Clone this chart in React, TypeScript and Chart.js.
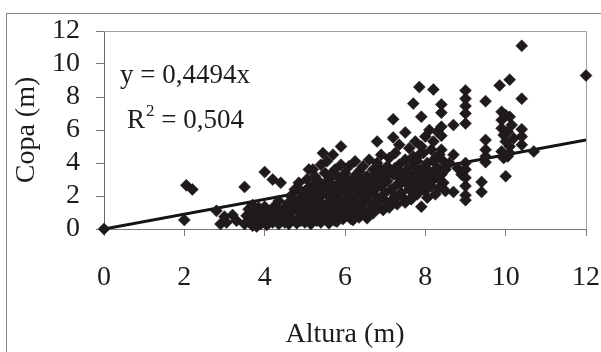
import React, { useEffect, useRef } from 'react';
import { Chart, registerables } from 'chart.js';

Chart.register(...registerables);

// Tick values
const xTickValues = [0, 2, 4, 6, 8, 10, 12];
const yTickValues = [0, 2, 4, 6, 8, 10, 12];

// Trend line (regression through origin)
const slope = 0.4494;
const equationLabel = 'y = 0,4494x';
const r2Label = '0,504';

// Observations: [altura (m), copa (m)]
const arvoresBaixas: [number, number][] = [
  [0, 0], [2.0, 0.55], [2.05, 2.65], [2.2, 2.4], [2.8, 1.1], [2.9, 0.3], [3.0, 0.75], [3.05, 0.4],
  [3.2, 0.85], [3.3, 0.5], [3.5, 2.55], [4.0, 3.45], [4.2, 3.0], [4.4, 2.8],
  [3.5, 0.3], [3.55, 0.8], [3.6, 1.2], [3.65, 0.5], [3.7, 0.2], [3.75, 0.9], [3.8, 0.6], [3.85, 1.3],
  [3.9, 0.3], [3.95, 1.0], [4.0, 0.6], [4.05, 0.25], [4.1, 1.1], [4.15, 0.7], [4.2, 0.4], [4.25, 1.4],
  [4.3, 0.8], [4.35, 0.3], [4.4, 1.0], [4.45, 0.55], [4.5, 1.3], [3.6, 0.45], [3.8, 0.15], [4.0, 1.35],
  [4.2, 1.0], [4.35, 1.7], [3.7, 1.45], [3.9, 0.75], [4.1, 0.35], [4.3, 1.15], [4.45, 0.85],
  [4.5, 0.4], [4.55, 0.9], [4.6, 1.6], [4.6, 0.3], [4.65, 2.0], [4.7, 1.2], [4.7, 0.6], [4.75, 2.4],
  [4.8, 0.35], [4.8, 1.5], [4.85, 1.0], [4.85, 2.8], [4.9, 0.5], [4.9, 1.9], [4.95, 1.3], [4.95, 0.8],
  [5.0, 2.3], [5.0, 0.4], [5.0, 1.6], [4.6, 1.0], [4.75, 1.75], [4.9, 2.3], [4.65, 0.65], [4.85, 0.6],
];

const arvoresMedias: [number, number][] = [
  [5.05, 3.0], [5.05, 1.1], [5.1, 0.6], [5.1, 2.0], [5.1, 3.6], [5.15, 1.5], [5.15, 0.3], [5.2, 2.6],
  [5.2, 0.9], [5.2, 3.6], [5.25, 1.8], [5.25, 3.2], [5.3, 0.5], [5.3, 1.2], [5.3, 2.3], [5.35, 2.9],
  [5.35, 0.8], [5.4, 1.6], [5.4, 3.9], [5.4, 0.4], [5.45, 2.1], [5.45, 4.6], [5.5, 1.0], [5.5, 2.7],
  [5.5, 3.4], [5.5, 0.6], [5.1, 2.5], [5.2, 1.3], [5.3, 1.7], [5.4, 2.5], [5.25, 0.55], [5.45, 1.3],
  [5.15, 2.2], [5.35, 2.0], [5.25, 2.75], [5.05, 1.8],
  [5.55, 1.4], [5.55, 4.1], [5.6, 0.35], [5.6, 2.3], [5.6, 3.0], [5.65, 1.8], [5.65, 0.8], [5.7, 4.5],
  [5.7, 2.6], [5.7, 1.2], [5.75, 3.6], [5.75, 0.5], [5.8, 2.0], [5.8, 3.2], [5.8, 1.5], [5.85, 0.9],
  [5.85, 2.8], [5.9, 5.0], [5.9, 1.1], [5.9, 3.9], [5.95, 2.4], [5.95, 0.6], [6.0, 1.7], [6.0, 3.4],
  [6.0, 2.9], [5.6, 1.6], [5.75, 2.2], [5.9, 1.8], [5.65, 3.3], [5.8, 0.45], [5.95, 1.35], [5.55, 2.6],
  [5.7, 1.9], [5.85, 2.4], [5.6, 2.0], [5.95, 3.0],
  [6.05, 0.8], [6.05, 2.2], [6.1, 1.3], [6.1, 3.8], [6.15, 2.6], [6.15, 0.6], [6.2, 1.9], [6.2, 3.1],
  [6.25, 1.0], [6.25, 4.1], [6.3, 2.4], [6.3, 1.5], [6.35, 3.5], [6.35, 0.7], [6.4, 2.0], [6.4, 2.9],
  [6.4, 0.85], [6.45, 1.2], [6.45, 3.8], [6.5, 2.5], [6.5, 1.7], [6.1, 1.75], [6.2, 2.5], [6.3, 3.3],
  [6.2, 0.55], [6.35, 1.1], [6.5, 3.1], [6.05, 3.0], [6.4, 1.5], [6.15, 2.1], [6.3, 2.8], [6.45, 2.2],
  [6.55, 0.65], [6.55, 3.2], [6.6, 2.1], [6.6, 1.1], [6.6, 4.2], [6.65, 2.8], [6.7, 1.5], [6.7, 3.6],
  [6.75, 2.4], [6.8, 5.3], [6.8, 1.9], [6.8, 4.0], [6.85, 3.0], [6.85, 1.3], [6.9, 2.6], [6.9, 4.5],
  [6.95, 1.15], [6.95, 3.4], [7.0, 2.2], [7.0, 1.7], [6.6, 1.6], [6.75, 3.3], [6.9, 1.9], [6.65, 2.4],
  [6.8, 2.7], [6.95, 2.9], [6.7, 0.95], [6.85, 3.7], [6.6, 2.7],
];

const arvoresAltas: [number, number][] = [
  [7.05, 3.8], [7.05, 2.9], [7.1, 1.3], [7.1, 4.3], [7.15, 2.4], [7.2, 6.65], [7.2, 5.55], [7.2, 3.3],
  [7.2, 1.8], [7.25, 4.6], [7.3, 2.7], [7.3, 1.5], [7.35, 3.9], [7.35, 5.1], [7.4, 2.2], [7.4, 3.4],
  [7.45, 1.9], [7.5, 5.85], [7.5, 4.2], [7.5, 2.9], [7.5, 1.6], [7.1, 3.5], [7.25, 2.0], [7.4, 2.8],
  [7.3, 3.2], [7.15, 1.7], [7.25, 3.7], [7.45, 3.1],
  [7.55, 3.6], [7.6, 2.4], [7.6, 4.9], [7.65, 1.8], [7.65, 3.1], [7.7, 7.6], [7.7, 4.4], [7.7, 2.7],
  [7.75, 3.8], [7.75, 5.3], [7.8, 2.1], [7.8, 4.1], [7.85, 8.6], [7.85, 3.4], [7.9, 6.8], [7.9, 1.35],
  [7.9, 2.8], [7.9, 5.0], [7.95, 4.6], [8.0, 3.2], [8.0, 2.3], [8.0, 5.6], [7.6, 3.3], [7.8, 3.0],
  [7.7, 2.0], [7.95, 3.7], [7.55, 2.7], [7.65, 4.1], [7.85, 4.5], [7.75, 2.4], [7.95, 2.6],
  [8.05, 4.0], [8.05, 1.9], [8.1, 3.5], [8.1, 6.0], [8.15, 2.6], [8.15, 4.8], [8.2, 8.45], [8.2, 3.0],
  [8.2, 5.3], [8.25, 2.1], [8.25, 4.3], [8.3, 3.7], [8.3, 5.9], [8.35, 2.5], [8.4, 7.55], [8.4, 7.05],
  [8.4, 6.2], [8.4, 5.65], [8.4, 4.8], [8.4, 3.3], [8.45, 4.1], [8.5, 2.3], [8.5, 3.6], [8.1, 2.8],
  [8.3, 3.1], [8.35, 4.5], [8.2, 4.1], [8.45, 2.8], [8.25, 3.4],
  [8.6, 4.0], [8.7, 6.3], [8.7, 4.5], [8.7, 2.25], [8.8, 3.7], [8.9, 3.3], [9.0, 8.4], [9.0, 7.9],
  [9.0, 7.45], [9.0, 7.0], [9.0, 6.4], [9.0, 4.0], [9.0, 3.6], [9.0, 3.1], [9.0, 2.6], [9.0, 2.05],
  [9.0, 1.75], [9.4, 2.85], [9.4, 2.25], [9.5, 7.75], [9.5, 5.4], [9.5, 4.8], [9.5, 4.05], [9.5, 4.4],
  [9.85, 8.7], [9.9, 7.1], [9.9, 6.6], [9.9, 6.1], [9.95, 5.7], [10.0, 5.3], [9.9, 4.7], [10.0, 3.2],
  [10.05, 4.4], [10.1, 9.05], [10.1, 6.8], [10.1, 5.0], [10.15, 6.3], [10.2, 5.5], [10.0, 6.9],
  [10.05, 5.9], [10.1, 4.6], [9.95, 4.3],
  [10.4, 11.1], [10.4, 7.9], [10.4, 6.05], [10.4, 5.6], [10.4, 5.1], [10.7, 4.7], [12.0, 9.3],
];

const FONT = "'Liberation Serif', 'Times New Roman', serif";
const INK = '#1f1b1c';

export default function App() {
  const canvasRef = useRef<HTMLCanvasElement>(null);

  useEffect(() => {
    document.body.style.margin = '0';
    const canvas = canvasRef.current;
    if (!canvas) return;

    const points = [...arvoresBaixas, ...arvoresMedias, ...arvoresAltas].map(([x, y]) => ({ x, y }));
    const xMax = xTickValues[xTickValues.length - 1];
    const yMax = yTickValues[yTickValues.length - 1];

    const decorPlugin = {
      id: 'decor',
      beforeDatasetsDraw(chart: any) {
        const { ctx, chartArea } = chart;
        ctx.save();
        ctx.strokeStyle = '#a0a0a0';
        ctx.lineWidth = 1;
        ctx.beginPath();
        ctx.moveTo(chartArea.left, chartArea.top + 0.5);
        ctx.lineTo(chartArea.right + 0.5, chartArea.top + 0.5);
        ctx.lineTo(chartArea.right + 0.5, chartArea.bottom);
        ctx.stroke();
        ctx.restore();
      },
      afterDraw(chart: any) {
        const { ctx, chartArea } = chart;
        ctx.save();
        ctx.fillStyle = INK;
        ctx.textBaseline = 'alphabetic';
        ctx.textAlign = 'left';
        ctx.font = `27px ${FONT}`;
        const x0 = chartArea.left + 16;
        ctx.fillText(equationLabel, x0, chartArea.top + 52);
        const rx = chartArea.left + 23;
        const ry = chartArea.top + 97;
        ctx.fillText('R', rx, ry);
        const rw = ctx.measureText('R').width;
        ctx.font = `17px ${FONT}`;
        ctx.fillText('2', rx + rw + 1, ry - 12);
        const sw = ctx.measureText('2').width;
        ctx.font = `27px ${FONT}`;
        ctx.fillText(' = ' + r2Label, rx + rw + sw + 1, ry);
        ctx.restore();
      },
    };

    const chart = new Chart(canvas, {
      type: 'scatter',
      data: {
        datasets: [
          {
            type: 'scatter',
            data: points,
            pointStyle: 'rectRot',
            pointRadius: 6,
            backgroundColor: INK,
            borderColor: INK,
            borderWidth: 0.5,
            clip: false,
            order: 0,
          } as any,
          {
            type: 'line',
            data: [
              { x: 0, y: 0 },
              { x: xMax, y: slope * xMax },
            ],
            borderColor: '#141414',
            borderWidth: 3,
            pointRadius: 0,
            order: 1,
          } as any,
        ],
      },
      options: {
        responsive: false,
        animation: false,
        events: [],
        layout: { padding: { left: 0, top: 31, right: 15, bottom: 0 } },
        plugins: { legend: { display: false }, tooltip: { enabled: false } },
        scales: {
          x: {
            type: 'linear',
            min: 0,
            max: xMax,
            afterBuildTicks: (s: any) => {
              s.ticks = xTickValues.map((v) => ({ value: v }));
            },
            afterFit: (s: any) => {
              s.height = 123;
              s.paddingLeft = 0;
              s.paddingRight = 0;
            },
            ticks: { font: { family: FONT, size: 28 }, color: INK, padding: 25, maxRotation: 0, autoSkip: false },
            grid: { drawOnChartArea: false, drawTicks: true, tickLength: 7, color: '#777' },
            border: { display: true, color: '#777', width: 1 },
            title: {
              display: true,
              text: 'Altura (m)',
              font: { family: FONT, size: 28 },
              color: INK,
              padding: { top: 0, bottom: 1 },
            },
          },
          y: {
            type: 'linear',
            min: 0,
            max: yMax,
            afterBuildTicks: (s: any) => {
              s.ticks = yTickValues.map((v) => ({ value: v }));
            },
            afterFit: (s: any) => {
              s.width = 104;
              s.paddingTop = 0;
              s.paddingBottom = 0;
            },
            ticks: { font: { family: FONT, size: 28 }, color: INK, padding: 16, autoSkip: false },
            grid: { drawOnChartArea: false, drawTicks: true, tickLength: 8, color: '#777' },
            border: { display: true, color: '#666', width: 1 },
            title: {
              display: true,
              text: 'Copa (m)',
              font: { family: FONT, size: 28 },
              color: INK,
              padding: { top: 10, bottom: 0 },
            },
          },
        },
      },
      plugins: [decorPlugin],
    } as any);

    return () => chart.destroy();
  }, []);

  return (
    <div style={{ position: 'relative', width: 601, height: 352, overflow: 'hidden', background: '#fff' }}>
      <div
        style={{
          position: 'absolute',
          left: 6,
          top: 13,
          right: 0,
          bottom: 0,
          borderTop: '1px solid #8a8a8a',
          borderLeft: '1px solid #8a8a8a',
        }}
      />
      <canvas
        ref={canvasRef}
        width={601}
        height={352}
        style={{ position: 'absolute', left: 0, top: 0, width: 601, height: 352 }}
      />
    </div>
  );
}
